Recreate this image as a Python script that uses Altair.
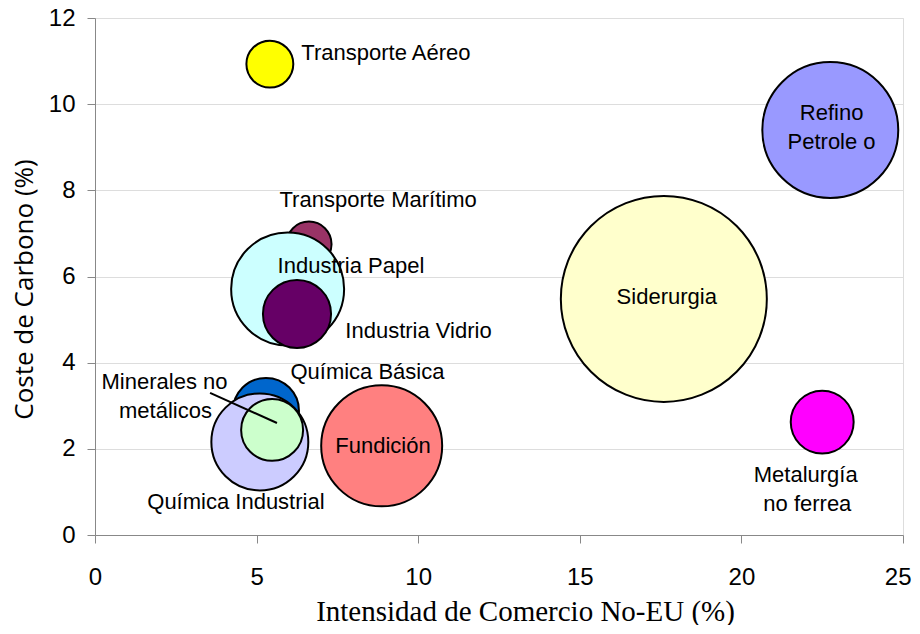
import altair as alt
import pandas as pd

# --- Bubble data ---
sectores = ["Siderurgia", "Refino Petroleo", "Fundición", "Metalurgía no ferrea",
            "Transporte Aéreo", "Transporte Marítimo", "Industria Papel",
            "Industria Vidrio", "Química Básica", "Química Industrial",
            "Minerales no metálicos"]
intensidad = [17.6, 22.75, 8.87, 22.5, 5.41, 6.62, 5.96, 6.25, 5.29, 5.10, 5.48]
coste = [5.48, 9.40, 2.07, 2.62, 10.93, 6.75, 5.71, 5.13, 2.88, 2.16, 2.44]
tamano = [106.1, 46.2, 36.6, 9.9, 5.5, 5.1, 31.9, 11.6, 10.9, 23.5, 9.6]
colores = ["#FFFFCC", "#9999FF", "#FF8080", "#FF00FF", "#FFFF00", "#993366",
           "#CCFFFF", "#660066", "#0066CC", "#CCCCFF", "#CCFFCC"]

# --- Label data (data units) ---
etiquetas = ["Siderurgia", "Refino", "Petrole o", "Fundición", "Metalurgía", "no ferrea",
             "Transporte Aéreo", "Transporte Marítimo", "Industria Papel",
             "Industria Vidrio", "Química Básica", "Minerales no", "metálicos",
             "Química Industrial"]
etiq_x = [17.69, 22.79, 22.79, 8.91, 21.99, 22.04, 9.0, 8.76, 7.92, 10.01, 8.43, 2.15, 2.18, 4.36]
etiq_y = [5.53, 9.80, 9.12, 2.07, 1.39, 0.71, 11.19, 7.78, 6.24, 4.74, 3.79, 3.56, 2.88, 0.77]

# --- Leader line (data units) ---
linea_x = [3.56]
linea_y = [3.30]
linea_x2 = [5.63]
linea_y2 = [2.60]

x_ticks = [0, 5, 10, 15, 20, 25]
y_ticks = [0, 2, 4, 6, 8, 10, 12]

burbujas = pd.DataFrame({"sector": sectores, "x": intensidad, "y": coste,
                         "tam": tamano, "orden": list(range(len(sectores)))})
rotulos = pd.DataFrame({"t": etiquetas, "x": etiq_x, "y": etiq_y})
lineas = pd.DataFrame({"x": linea_x, "y": linea_y, "x2": linea_x2, "y2": linea_y2})

xscale = alt.Scale(domain=[0, 25], nice=False, zero=True)
yscale = alt.Scale(domain=[0, 12], nice=False, zero=True)

xaxis = alt.Axis(values=x_ticks, title="Intensidad de Comercio No-EU (%)",
                 grid=False, tickSize=8, labelPadding=22, labelFontSize=24,
                 labelFlush=False,
                 labelAlign=alt.condition("datum.value == 25", alt.value("right"), alt.value("center")),
                 labelOffset=alt.condition("datum.value == 25", alt.value(8), alt.value(0)),
                 labelFont="Liberation Sans", titleFont="Liberation Serif",
                 titleFontSize=29, titleFontWeight="normal",
                 titleX=430, titleY=85, titleBaseline="alphabetic")
yaxis = alt.Axis(values=y_ticks, title="Coste de Carbono (%)",
                 grid=True, tickSize=8, labelPadding=12, labelFontSize=24,
                 labelFlush=False,
                 labelFont="Liberation Sans", titleFont="Open Sans",
                 titleFontSize=26, titleFontWeight="normal",
                 titleX=-63, titleY=271, titleBaseline="alphabetic")

bubbles = alt.Chart(burbujas).mark_circle(opacity=1, stroke="black", strokeWidth=2).encode(
    x=alt.X("x:Q", scale=xscale, axis=xaxis),
    y=alt.Y("y:Q", scale=yscale, axis=yaxis),
    size=alt.Size("tam:Q", scale=alt.Scale(domain=[0, 106.1], range=[0, 42436]), legend=None),
    color=alt.Color("sector:N", scale=alt.Scale(domain=sectores, range=colores), legend=None),
    order=alt.Order("orden:Q"),
)

leader = alt.Chart(lineas).mark_rule(color="black", strokeWidth=2).encode(
    x="x:Q", y="y:Q", x2="x2:Q", y2="y2:Q"
)

texts = alt.Chart(rotulos).mark_text(font="Liberation Sans", fontSize=22,
                                     color="black", align="center",
                                     baseline="middle").encode(
    x="x:Q", y="y:Q", text="t:N"
)

chart = alt.layer(bubbles, leader, texts).properties(
    width=808, height=517,
    autosize=alt.AutoSizeParams(type="none"),
    padding={"left": 87, "top": 10, "right": 9, "bottom": 90},
).configure_view(
    stroke="black", strokeWidth=2
).configure_axis(
    domainColor="black", domainWidth=2, tickColor="black", tickWidth=1,
    labelColor="black", titleColor="black", gridColor="#d4d4d4", gridWidth=1.2,
).configure(background="white")

chart.save("out.html", embed_options={"renderer": "svg", "actions": False})
